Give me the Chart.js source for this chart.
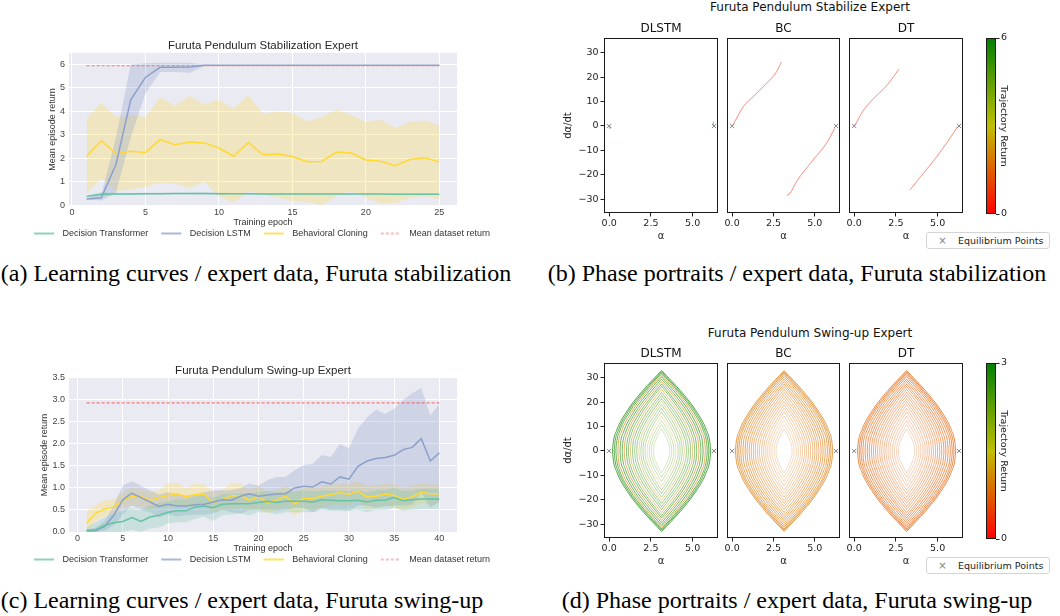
<!DOCTYPE html>
<html>
<head>
<meta charset="utf-8">
<script src="https://cdn.jsdelivr.net/npm/chart.js@4.4.1/dist/chart.umd.min.js"></script>
<style>
  html, body { margin: 0; padding: 0; background: #fff; }
  body { position: relative; width: 1060px; height: 616px; overflow: hidden; }
  canvas { position: absolute; }
  .sup { position: absolute; width: 300px; text-align: center; font: 12px "DejaVu Sans"; line-height: 14px; color: #111; }
  .cap { position: absolute; text-align: center; font: 24px "Liberation Serif"; line-height: 24px; color: #000; white-space: nowrap; }
  .eq { position: absolute; z-index: 2; width: 124px; height: 17px; box-sizing: border-box; border: 1px solid #d4d4d4; border-radius: 3px; background: #fff; font: 9.5px "DejaVu Sans"; line-height: 15px; color: #222; white-space: nowrap; }
  .eq span { display: inline-block; width: 31px; text-align: center; color: #808080; font-size: 10px; }
</style>
</head>
<body>
<div class="sup" style="left:660px;top:0px">Furuta Pendulum Stabilize Expert</div>
<div class="sup" style="left:660px;top:326px">Furuta Pendulum Swing-up Expert</div>
<div class="eq" style="left:926px;top:232px"><span>×</span>Equilibrium Points</div>
<div class="eq" style="left:926px;top:557px"><span>×</span>Equilibrium Points</div>
<div class="cap" style="left:0;width:512px;top:261px">(a) Learning curves / expert data, Furuta stabilization</div>
<div class="cap" style="left:534px;width:526px;top:261px">(b) Phase portraits / expert data, Furuta stabilization</div>
<div class="cap" style="left:0;width:484px;top:588px">(c) Learning curves / expert data, Furuta swing-up</div>
<div class="cap" style="left:534px;width:526px;top:588px">(d) Phase portraits / expert data, Furuta swing-up</div>
<script>
// ---------- (a) learning curves, stabilization ----------
const epochsA = [1,2,3,4,5,6,7,8,9,10,11,12,13,14,15,16,17,18,19,20,21,22,23,24,25];
const dtMeanA  = [0.38,0.47,0.48,0.48,0.49,0.49,0.50,0.50,0.50,0.49,0.49,0.49,0.48,0.48,0.48,0.48,0.48,0.48,0.48,0.48,0.48,0.47,0.47,0.47,0.47];
const dtUpperA = [0.42,0.56,0.53,0.52,0.53,0.53,0.54,0.54,0.55,0.53,0.52,0.52,0.51,0.51,0.51,0.51,0.51,0.51,0.51,0.50,0.50,0.50,0.50,0.50,0.50];
const dtLowerA = [0.33,0.40,0.44,0.44,0.45,0.45,0.46,0.46,0.45,0.45,0.46,0.46,0.45,0.45,0.45,0.45,0.45,0.45,0.45,0.46,0.46,0.44,0.44,0.44,0.44];
const lstmMeanA  = [0.27,0.32,1.75,4.50,5.45,5.88,5.88,5.90,5.97,5.97,5.97,5.97,5.97,5.97,5.97,5.97,5.97,5.97,5.97,5.97,5.97,5.97,5.97,5.97,5.97];
const lstmUpperA = [0.30,0.45,2.90,6.00,6.05,6.08,6.08,6.08,6.00,5.99,5.99,5.99,5.99,5.99,5.99,5.99,5.99,5.99,5.99,5.99,5.99,5.99,5.99,5.99,5.99];
const lstmLowerA = [0.24,0.20,0.54,2.90,4.77,5.68,5.68,5.65,5.94,5.95,5.95,5.95,5.95,5.95,5.95,5.95,5.95,5.95,5.95,5.95,5.95,5.95,5.95,5.95,5.95];
const bcMeanA  = [2.09,2.75,2.20,2.30,2.25,2.80,2.58,2.70,2.66,2.44,2.09,2.68,2.15,2.19,2.08,1.86,1.87,2.27,2.23,1.93,1.88,1.69,1.95,2.03,1.85];
const bcUpperA = [3.71,4.35,3.76,3.85,3.75,4.60,4.24,4.66,4.30,4.50,4.10,4.70,3.90,4.00,3.95,3.57,3.75,4.08,3.85,3.55,3.65,3.30,3.55,3.60,3.42];
const bcLowerA = [0.52,1.14,0.60,0.68,0.78,0.96,0.92,0.75,0.99,0.40,0.11,0.60,0.47,0.32,0.18,0.14,0.00,0.40,0.60,0.32,0.08,0.11,0.32,0.40,0.25];
const meanReturnA = 5.95;
const xTicksA = [0,5,10,15,20,25];
const xLabelsA = ['0','5','10','15','20','25'];
const yTicksA = [0,1,2,3,4,5,6];
const yLabelsA = ['0','1','2','3','4','5','6'];

// ---------- (c) learning curves, swing-up ----------
const epochsC = [1,2,3,4,5,6,7,8,9,10,11,12,13,14,15,16,17,18,19,20,21,22,23,24,25,26,27,28,29,30,31,32,33,34,35,36,37,38,39,40];
const dtMeanC  = [0.04,0.05,0.15,0.21,0.24,0.33,0.24,0.34,0.38,0.45,0.48,0.48,0.57,0.59,0.55,0.63,0.64,0.64,0.64,0.67,0.70,0.67,0.70,0.70,0.70,0.68,0.73,0.72,0.71,0.71,0.72,0.68,0.72,0.72,0.78,0.71,0.73,0.75,0.75,0.75];
const dtUpperC = [0.10,0.22,0.33,0.42,0.48,0.55,0.50,0.60,0.65,0.70,0.74,0.74,0.80,0.84,0.78,0.86,0.86,0.88,0.88,0.90,0.94,0.90,0.92,0.93,0.94,0.92,0.95,0.95,0.93,0.93,0.95,0.90,0.95,0.95,1.00,0.93,0.95,0.98,0.98,0.98];
const dtLowerC = [0.00,0.00,0.00,0.00,0.00,0.05,0.00,0.08,0.10,0.20,0.22,0.22,0.30,0.35,0.25,0.38,0.40,0.42,0.38,0.45,0.45,0.40,0.45,0.45,0.45,0.45,0.50,0.48,0.48,0.48,0.50,0.45,0.50,0.50,0.55,0.48,0.50,0.52,0.52,0.52];
const lstmMeanC  = [0.02,0.03,0.13,0.38,0.73,0.88,0.78,0.68,0.58,0.63,0.59,0.59,0.62,0.63,0.68,0.73,0.72,0.81,0.87,0.81,0.84,0.86,0.87,1.00,1.04,1.02,1.14,1.09,1.25,1.20,1.49,1.61,1.67,1.69,1.74,1.87,1.92,2.12,1.61,1.80];
const lstmUpperC = [0.05,0.10,0.25,0.60,1.05,1.15,1.05,0.95,0.85,0.90,0.85,0.82,0.85,0.90,0.95,0.95,0.95,1.00,1.10,1.05,1.18,1.25,1.25,1.40,1.52,1.55,1.75,1.70,2.00,1.90,2.35,2.60,2.78,2.68,2.80,3.00,3.15,3.27,2.65,2.90];
const lstmLowerC = [0.00,0.00,0.03,0.15,0.40,0.60,0.50,0.45,0.33,0.40,0.35,0.38,0.40,0.40,0.42,0.50,0.45,0.42,0.50,0.50,0.50,0.48,0.50,0.55,0.55,0.45,0.55,0.50,0.50,0.48,0.60,0.60,0.55,0.58,0.60,0.60,0.62,0.90,0.55,0.68];
const bcMeanC  = [0.20,0.43,0.52,0.57,0.72,0.81,0.80,0.72,0.78,0.83,0.87,0.80,0.85,0.85,0.67,0.73,0.82,0.82,0.72,0.80,0.66,0.73,0.81,0.64,0.76,0.76,0.81,0.85,0.89,0.86,0.93,0.79,0.81,0.86,0.83,0.74,0.80,0.90,0.87,0.87];
const bcUpperC = [0.48,0.60,0.72,0.74,0.90,1.00,0.98,0.90,0.95,1.10,1.12,1.00,1.10,1.08,0.90,0.95,1.12,1.10,0.95,1.05,0.90,0.95,1.05,0.90,1.00,1.00,1.05,1.08,1.10,1.10,1.15,1.05,1.05,1.10,1.08,1.00,1.05,1.12,1.08,1.08];
const bcLowerC = [0.00,0.25,0.35,0.42,0.55,0.60,0.58,0.50,0.55,0.55,0.60,0.55,0.58,0.60,0.45,0.50,0.50,0.55,0.50,0.52,0.42,0.50,0.55,0.38,0.50,0.50,0.55,0.60,0.62,0.60,0.70,0.52,0.55,0.60,0.55,0.50,0.55,0.65,0.62,0.65];
const meanReturnC = 2.93;
const xTicksC = [0,5,10,15,20,25,30,35,40];
const xLabelsC = ['0','5','10','15','20','25','30','35','40'];
const yTicksC = [0,0.5,1,1.5,2,2.5,3,3.5];
const yLabelsC = ['0.0','0.5','1.0','1.5','2.0','2.5','3.0','3.5'];

// ---------- phase portraits (alpha, d alpha / dt) ----------
const phaseXTicks = [0, 2.5, 5];
const phaseXLabels = ['0.0', '2.5', '5.0'];
const phaseYTicks = [-30, -20, -10, 0, 10, 20, 30];
const phaseYLabels = ['\u221230', '\u221220', '\u221210', '0', '10', '20', '30'];
const eqAlpha = [0, 6.283];
const eqOmega = [0, 0];

// stabilization trajectories
const dlstmStabTraj = [[[0.04,-0.3],[0.05,-1.2]], [[6.22,0.3],[6.25,1.8]]];
const dlstmStabReturns = [5.9, 5.9];
const bcStabTraj = [[[0.05,0.4],[0.67,7.9],[1.27,12],[2.08,17.5],[2.68,22.2],[2.98,26.3]],
                    [[3.3,-28.5],[3.5,-27.6],[3.89,-22.8],[4.9,-13.9],[5.7,-7.1],[6.2,-1]]];
const bcStabReturns = [0.45, 0.45];
const dtStabTraj = [[[0.05,0.4],[0.56,6.5],[1.17,11.3],[1.98,16.8],[2.68,23.3]],
                    [[3.35,-26.2],[3.99,-20.7],[4.8,-13.9],[5.6,-6.4],[6.2,-0.3]]];
const dtStabReturns = [0.5, 0.5];

const swingOrbits = [
  [[0.2,0],[0.24,3.3],[0.44,8.3],[1.08,16.5],[2.02,24.8],[3.14,33],[4.26,24.8],[5.2,16.5],[5.84,8.3],[6.04,3.3],[6.08,0]],
  [[0.3,0],[0.34,3.3],[0.53,8.1],[1.15,16.3],[2.06,24.4],[3.14,32.5],[4.22,24.4],[5.13,16.3],[5.75,8.1],[5.94,3.3],[5.98,0]],
  [[0.4,0],[0.44,3.2],[0.62,8],[1.22,16],[2.1,24],[3.14,32],[4.18,24],[5.06,16],[5.66,8],[5.84,3.2],[5.88,0]],
  [[0.52,0],[0.55,3.1],[0.73,7.8],[1.31,15.7],[2.14,23.5],[3.14,31.3],[4.14,23.5],[4.97,15.7],[5.55,7.8],[5.73,3.1],[5.76,0]],
  [[0.65,0],[0.68,3.1],[0.85,7.6],[1.4,15.3],[2.19,22.9],[3.14,30.5],[4.09,22.9],[4.88,15.3],[5.43,7.6],[5.6,3.1],[5.63,0]],
  [[0.78,0],[0.81,3],[0.97,7.4],[1.49,14.8],[2.24,22.1],[3.14,29.5],[4.04,22.1],[4.79,14.8],[5.31,7.4],[5.47,3],[5.5,0]],
  [[0.9,0],[0.93,2.9],[1.08,7.1],[1.57,14.3],[2.29,21.4],[3.14,28.5],[3.99,21.4],[4.71,14.3],[5.2,7.1],[5.35,2.9],[5.38,0]],
  [[1.03,0],[1.06,2.8],[1.2,6.9],[1.66,13.8],[2.34,20.6],[3.14,27.5],[3.94,20.6],[4.62,13.8],[5.08,6.9],[5.22,2.8],[5.25,0]],
  [[1.15,0],[1.18,2.7],[1.31,6.6],[1.75,13.3],[2.38,19.9],[3.14,26.5],[3.9,19.9],[4.53,13.3],[4.97,6.6],[5.1,2.7],[5.13,0]],
  [[1.28,0],[1.3,2.5],[1.43,6.3],[1.84,12.7],[2.43,19],[3.14,25.3],[3.85,19],[4.44,12.7],[4.85,6.3],[4.98,2.5],[5.0,0]],
  [[1.4,0],[1.42,2.4],[1.54,6],[1.92,12],[2.48,18],[3.14,24],[3.8,18],[4.36,12],[4.74,6],[4.86,2.4],[4.88,0]],
  [[1.53,0],[1.55,2.3],[1.66,5.7],[2.01,11.4],[2.53,17.1],[3.14,22.8],[3.75,17.1],[4.27,11.4],[4.62,5.7],[4.73,2.3],[4.75,0]],
  [[1.65,0],[1.67,2.2],[1.77,5.4],[2.1,10.8],[2.57,16.1],[3.14,21.5],[3.71,16.1],[4.18,10.8],[4.51,5.4],[4.61,2.2],[4.63,0]],
  [[1.78,0],[1.8,2],[1.89,5.1],[2.19,10.2],[2.62,15.2],[3.14,20.3],[3.66,15.2],[4.09,10.2],[4.39,5.1],[4.48,2],[4.5,0]],
  [[1.9,0],[1.92,1.9],[2,4.8],[2.27,9.5],[2.67,14.3],[3.14,19],[3.61,14.3],[4.01,9.5],[4.28,4.8],[4.36,1.9],[4.38,0]],
  [[2.03,0],[2.04,1.8],[2.12,4.4],[2.36,8.8],[2.72,13.1],[3.14,17.5],[3.56,13.1],[3.92,8.8],[4.16,4.4],[4.24,1.8],[4.25,0]],
  [[2.15,0],[2.16,1.6],[2.23,4],[2.45,8],[2.76,12],[3.14,16],[3.52,12],[3.83,8],[4.05,4],[4.12,1.6],[4.13,0]],
  [[2.28,0],[2.29,1.4],[2.35,3.6],[2.54,7.2],[2.81,10.7],[3.14,14.3],[3.47,10.7],[3.74,7.2],[3.93,3.6],[3.99,1.4],[4.0,0]],
  [[2.4,0],[2.41,1.3],[2.46,3.1],[2.62,6.3],[2.86,9.4],[3.14,12.5],[3.42,9.4],[3.66,6.3],[3.82,3.1],[3.87,1.3],[3.88,0]],
  [[2.53,0],[2.54,1.1],[2.58,2.7],[2.71,5.4],[2.91,8.1],[3.14,10.8],[3.37,8.1],[3.57,5.4],[3.7,2.7],[3.74,1.1],[3.75,0]],
  [[2.65,0],[2.66,0.9],[2.69,2.3],[2.8,4.5],[2.95,6.8],[3.14,9],[3.33,6.8],[3.48,4.5],[3.59,2.3],[3.62,0.9],[3.63,0]]
];
const dlstmSwingReturns = [2.9, 2.8, 2.75, 1.0, 2.85, 2.7, 0.95, 2.8, 2.6, 1.1, 2.7, 2.5, 2.7, 1.2, 2.5, 2.6, 2.4, 1.3, 2.5, 2.4, 2.3];
const bcSwingReturns = [0.95, 0.92, 0.9, 0.93, 0.92, 0.9, 0.88, 0.9, 0.9, 0.87, 0.86, 0.9, 0.9, 0.88, 0.88, 0.87, 0.86, 0.88, 0.9, 0.86, 0.85];
const dtSwingReturns = [0.75, 0.74, 0.72, 0.73, 0.74, 0.72, 0.7, 0.73, 0.73, 0.71, 0.72, 0.72, 0.75, 0.71, 0.7, 0.72, 0.72, 0.7, 0.7, 0.71, 0.7];
const stabMax = 6, swingMax = 3;
const cbTicksStab = [0, 6], cbTicksSwing = [0, 3];

// styling
const FS = 'Liberation Sans';
const FM = 'DejaVu Sans';
const orbitAlpha = [0.9, 0.88, 0.85, 0.82, 0.8, 0.77, 0.74, 0.7, 0.67, 0.64, 0.6, 0.57, 0.54, 0.5, 0.47, 0.44, 0.41, 0.38, 0.35, 0.32, 0.3];
const phaseX = { min: -0.31, max: 6.52 };
const phaseY = { min: -35.7, max: 36.1 };

// red -> olive -> green, same map as the colorbars
function returnColor(t, alpha) {
  const stops = [[255, 0, 0], [191, 191, 0], [0, 128, 0]];
  t = Math.max(0, Math.min(1, t));
  const seg = t < 0.5 ? 0 : 1;
  const f = t < 0.5 ? t * 2 : (t - 0.5) * 2;
  const c = stops[seg].map((v, k) => Math.round(v + (stops[seg + 1][k] - v) * f));
  return `rgba(${c[0]},${c[1]},${c[2]},${alpha})`;
}

const plotBg = {
  id: 'plotBg',
  beforeDraw(chart, args, opts) {
    if (!opts.color) return;
    const { ctx, chartArea: a } = chart;
    ctx.save();
    ctx.fillStyle = opts.color;
    ctx.fillRect(a.left, a.top, a.right - a.left, a.bottom - a.top);
    ctx.restore();
  }
};
const frame = {
  id: 'frame',
  afterDatasetsDraw(chart, args, opts) {
    if (!opts.color) return;
    const { ctx, chartArea: a } = chart;
    ctx.save();
    ctx.strokeStyle = opts.color;
    ctx.lineWidth = 1;
    ctx.strokeRect(a.left + 0.5, a.top + 0.5, a.right - a.left - 1, a.bottom - a.top - 1);
    ctx.restore();
  }
};
Chart.register(plotBg, frame);

function addCanvas(left, top, w, h) {
  const c = document.createElement('canvas');
  c.width = w; c.height = h;
  c.style.left = left + 'px'; c.style.top = top + 'px';
  c.style.width = w + 'px'; c.style.height = h + 'px';
  document.body.appendChild(c);
  return c.getContext('2d');
}

// little line sample for the legend (keeps dashes, adds side margins)
function lineIcon(color, width, dash) {
  const c = document.createElement('canvas');
  c.width = 28; c.height = 6;
  const g = c.getContext('2d');
  g.strokeStyle = color; g.lineWidth = width; g.setLineDash(dash || []);
  g.beginPath(); g.moveTo(4, 3); g.lineTo(24, 3); g.stroke();
  return c;
}

const pts = (xs, ys) => xs.map((x, i) => ({ x, y: ys[i] }));

function learningChart(ctx, c) {
  const font = { family: FS, size: 9 };
  const datasets = [];
  c.series.forEach(s => {
    datasets.push({ data: pts(c.epochs, s.upper), borderWidth: 0, borderColor: 'transparent', pointRadius: 0, fill: false, order: 2 });
    datasets.push({ data: pts(c.epochs, s.lower), borderWidth: 0, borderColor: 'transparent', pointRadius: 0, fill: '-1', backgroundColor: s.band, order: 2 });
  });
  c.series.forEach(s => {
    datasets.push({ label: s.label, data: pts(c.epochs, s.mean), borderColor: s.color, borderWidth: 1.5, pointRadius: 0, fill: false, order: 1 });
  });
  const last = c.epochs.length - 1;
  datasets.push({
    label: 'Mean dataset return',
    data: [{ x: c.epochs[0], y: c.meanReturn }, { x: c.epochs[last], y: c.meanReturn }],
    borderColor: 'rgba(245,90,90,0.8)', borderWidth: 1.1, borderDash: [3, 2], pointRadius: 0, fill: false, order: 1
  });

  return new Chart(ctx, {
    type: 'line',
    data: { datasets },
    options: {
      responsive: false, animation: false, events: [],
      layout: { padding: 0 },
      plugins: {
        plotBg: { color: '#eaeaf2' },
        tooltip: { enabled: false },
        title: { display: true, text: c.title, fullSize: false, color: '#262626',
                 font: { family: FS, size: 11.5, weight: 'normal' }, padding: { top: 9, bottom: 0 } },
        legend: {
          position: 'bottom',
          labels: {
            usePointStyle: true, pointStyleWidth: 28, padding: 9,
            color: '#333', font,
            generateLabels: chart => Chart.defaults.plugins.legend.labels.generateLabels(chart)
              .filter(it => it.text)
              .map(it => {
                const d = chart.data.datasets[it.datasetIndex];
                it.pointStyle = lineIcon(d.borderColor, d.borderWidth, d.borderDash);
                return it;
              })
          }
        }
      },
      scales: {
        x: {
          type: 'linear', min: c.xMin, max: c.xMax,
          afterBuildTicks: s => { s.ticks = c.xTicks.map(v => ({ value: v })); },
          afterFit: s => { s.height = 14; },
          ticks: { callback: (v, i) => c.xLabels[i], color: '#444', font, padding: 1.5, maxRotation: 0, autoSkip: false },
          grid: { color: '#ffffff', lineWidth: 1, drawTicks: false },
          border: { display: false },
          title: { display: true, text: 'Training epoch', color: '#333', font, padding: { top: 0, bottom: -7.9 } }
        },
        y: {
          min: c.yMin, max: c.yMax,
          afterBuildTicks: s => { s.ticks = c.yTicks.map(v => ({ value: v })); },
          afterFit: s => { s.width = 69; },
          ticks: { callback: (v, i) => c.yLabels[i], color: '#444', font, padding: 4, autoSkip: false },
          grid: { color: '#ffffff', lineWidth: 1, drawTicks: false },
          border: { display: false },
          title: { display: true, text: 'Mean episode return', color: '#333', font, padding: { top: c.yTitlePad, bottom: 0 } }
        },
        // empty right gutter, so the legend can still use the full canvas width
        gutter: {
          position: 'right', afterFit: s => { s.width = 63; },
          ticks: { display: false }, grid: { display: false }, border: { display: false }
        }
      }
    }
  });
}

function phaseChart(ctx, c) {
  const tickFont = { family: FM, size: 9.5 };
  const datasets = c.lines.map(l => ({
    data: l.pts.map(p => ({ x: p[0], y: p[1] })),
    showLine: true, pointRadius: 0, borderColor: l.color, borderWidth: l.width || 0.8,
    cubicInterpolationMode: 'monotone', fill: false
  }));
  datasets.push({
    data: eqAlpha.map((a, i) => ({ x: a, y: eqOmega[i] })),
    pointStyle: 'crossRot', pointRadius: 3, borderColor: 'rgba(110,110,110,0.85)', borderWidth: 1,
    backgroundColor: 'transparent', clip: false
  });
  const yScale = c.showY ? {
    min: phaseY.min, max: phaseY.max,
    afterBuildTicks: s => { s.ticks = phaseYTicks.map(v => ({ value: v })); },
    afterFit: s => { s.width = 54; },
    ticks: { callback: (v, i) => phaseYLabels[i], color: '#222', font: tickFont, padding: 2, autoSkip: false },
    grid: { drawOnChartArea: false, drawTicks: true, tickLength: 3.5, color: '#222' },
    border: { display: false },
    title: { display: true, text: 'd\u03b1/dt', color: '#222', font: { family: FM, size: 10 }, padding: { top: 12, bottom: 0 } }
  } : { display: false, min: phaseY.min, max: phaseY.max };

  return new Chart(ctx, {
    type: 'scatter',
    data: { datasets },
    options: {
      responsive: false, animation: false, events: [],
      layout: { padding: c.padding },
      plugins: {
        legend: { display: false }, tooltip: { enabled: false },
        frame: { color: '#1a1a1a' },
        title: { display: true, text: c.title, fullSize: false, color: '#111',
                 font: { family: FM, size: 12, weight: 'normal' }, padding: { top: 2, bottom: 1.6 } }
      },
      scales: {
        x: {
          type: 'linear', min: phaseX.min, max: phaseX.max,
          afterBuildTicks: s => { s.ticks = phaseXTicks.map(v => ({ value: v })); },
          afterFit: s => { s.height = 37; },
          ticks: { callback: (v, i) => phaseXLabels[i], color: '#222', font: tickFont, padding: 1, maxRotation: 0, autoSkip: false },
          grid: { drawOnChartArea: false, drawTicks: true, tickLength: 3.5, color: '#222' },
          border: { display: false },
          title: { display: true, text: '\u03b1', color: '#222', font: { family: FM, size: 10 }, padding: { top: 0, bottom: 7.3 } }
        },
        y: yScale
      }
    }
  });
}

function colorbarChart(ctx, maxRet, ticks) {
  return new Chart(ctx, {
    type: 'bar',
    data: {
      labels: [''],
      datasets: [{
        data: [[0, maxRet]], barPercentage: 1, categoryPercentage: 1, borderWidth: 0,
        backgroundColor: c => {
          const a = c.chart.chartArea;
          if (!a) return 'transparent';
          const g = c.chart.ctx.createLinearGradient(0, a.bottom, 0, a.top);
          g.addColorStop(0, returnColor(0, 1));
          g.addColorStop(0.5, returnColor(0.5, 1));
          g.addColorStop(1, returnColor(1, 1));
          return g;
        }
      }]
    },
    options: {
      responsive: false, animation: false, events: [],
      layout: { padding: { left: 10, right: 0, top: 18, bottom: 36 } },
      plugins: { legend: { display: false }, tooltip: { enabled: false }, frame: { color: '#1a1a1a' } },
      scales: {
        x: { display: false },
        y: {
          position: 'right', min: 0, max: maxRet,
          afterBuildTicks: s => { s.ticks = ticks.map(v => ({ value: v })); },
          afterFit: s => { s.width = 40; },
          ticks: { color: '#222', font: { family: FM, size: 9.5 }, padding: 1.5, autoSkip: false },
          grid: { drawOnChartArea: false, drawTicks: true, tickLength: 3.5, color: '#222' },
          border: { display: false },
          title: { display: true, text: 'Trajectory Return', color: '#222', font: { family: FM, size: 9.5 }, padding: { top: 26.5, bottom: 0 } }
        }
      }
    }
  });
}

function trajLines(trajs, returns, maxRet, alpha) {
  return trajs.map((t, i) => ({ pts: t, color: returnColor(returns[i] / maxRet, alpha), width: 1 }));
}

function orbitLines(returns, maxRet) {
  const lines = [];
  swingOrbits.forEach((orbit, i) => {
    const color = returnColor(returns[i] / maxRet, orbitAlpha[i]);
    const peak = orbit.length >> 1;
    // split each orbit at its peak so every piece runs monotone in alpha
    [orbit.slice(0, peak + 1), orbit.slice(peak)].forEach(q => {
      lines.push({ pts: q, color });
      lines.push({ pts: q.map(p => [p[0], -p[1]]), color }); // lower half: the portraits are symmetric in d alpha/dt
    });
  });
  return lines;
}

// ---------- learning curves ----------
const seriesStyle = [
  { label: 'Decision Transformer', color: '#66c2a5', band: 'rgba(102,194,165,0.25)' },
  { label: 'Decision LSTM', color: '#8da0cb', band: 'rgba(141,160,203,0.30)' },
  { label: 'Behavioral Cloning', color: '#ffd92f', band: 'rgba(255,217,47,0.25)' }
];

learningChart(addCanvas(0, 30, 520, 218), {
  title: 'Furuta Pendulum Stabilization Expert',
  epochs: epochsA, xMin: -0.2, xMax: 26.2, yMin: -0.03, yMax: 6.5,
  xTicks: xTicksA, xLabels: xLabelsA, yTicks: yTicksA, yLabels: yLabelsA, yTitlePad: 47.6,
  meanReturn: meanReturnA,
  series: [
    { ...seriesStyle[0], mean: dtMeanA, upper: dtUpperA, lower: dtLowerA },
    { ...seriesStyle[1], mean: lstmMeanA, upper: lstmUpperA, lower: lstmLowerA },
    { ...seriesStyle[2], mean: bcMeanA, upper: bcUpperA, lower: bcLowerA }
  ]
});

learningChart(addCanvas(0, 355, 520, 219), {
  title: 'Furuta Pendulum Swing-up Expert',
  epochs: epochsC, xMin: -0.95, xMax: 41.95, yMin: 0, yMax: 3.5,
  xTicks: xTicksC, xLabels: xLabelsC, yTicks: yTicksC, yLabels: yLabelsC, yTitlePad: 39.6,
  meanReturn: meanReturnC,
  series: [
    { ...seriesStyle[0], mean: dtMeanC, upper: dtUpperC, lower: dtLowerC },
    { ...seriesStyle[1], mean: lstmMeanC, upper: lstmUpperC, lower: lstmLowerC },
    { ...seriesStyle[2], mean: bcMeanC, upper: bcUpperC, lower: bcLowerC }
  ]
});

// ---------- phase portraits ----------
const rows = [
  { top: 20, max: stabMax, ticks: cbTicksStab,
    dlstm: trajLines(dlstmStabTraj, dlstmStabReturns, stabMax, 0.55),
    bc: trajLines(bcStabTraj, bcStabReturns, stabMax, 0.5),
    dt: trajLines(dtStabTraj, dtStabReturns, stabMax, 0.5) },
  { top: 345, max: swingMax, ticks: cbTicksSwing,
    dlstm: orbitLines(dlstmSwingReturns, swingMax),
    bc: orbitLines(bcSwingReturns, swingMax),
    dt: orbitLines(dtSwingReturns, swingMax) }
];

rows.forEach(r => {
  phaseChart(addCanvas(550, r.top, 175, 230), { title: 'DLSTM', lines: r.dlstm, showY: true, padding: { left: 0, right: 7, top: 0, bottom: 0 } });
  phaseChart(addCanvas(717, r.top, 133, 230), { title: 'BC', lines: r.bc, showY: false, padding: { left: 10, right: 10, top: 0, bottom: 0 } });
  phaseChart(addCanvas(839, r.top, 134, 230), { title: 'DT', lines: r.dt, showY: false, padding: { left: 10, right: 10, top: 0, bottom: 0 } });
  colorbarChart(addCanvas(976, r.top, 60, 230), r.max, r.ticks);
});
</script>
</body>
</html>
